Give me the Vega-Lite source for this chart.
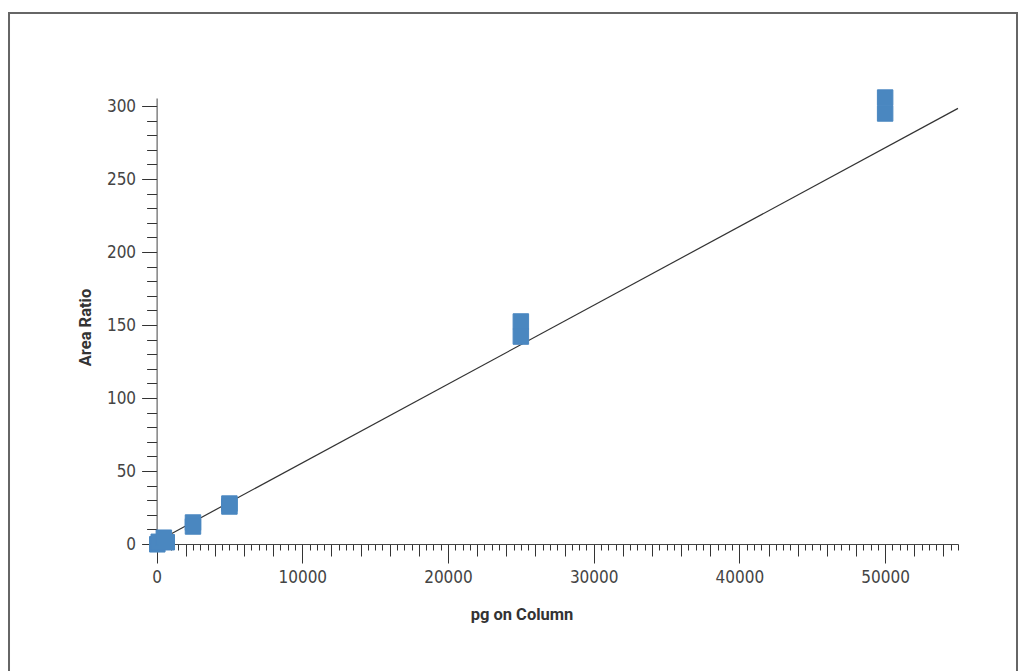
{
  "$schema": "https://vega.github.io/schema/vega-lite/v6.json",
  "width": 808,
  "height": 446,
  "padding": {"left": 8, "top": 12, "right": 0, "bottom": 0},
  "background": "white",
  "config": {
    "view": {"stroke": null},
    "axis": {
      "labelFont": "Liberation Sans Narrow, DejaVu Sans Condensed, sans-serif",
      "labelFontSize": 17,
      "labelColor": "#444",
      "titleFont": "Roboto, Liberation Sans, sans-serif",
      "titleFontSize": 16.5,
      "titleFontWeight": "bold",
      "titleColor": "#333",
      "tickColor": "#333",
      "domainColor": "#444",
      "grid": false
    }
  },
  "datasets": {
    "points": [
      {"pg": 50, "ratio": -0.2},
      {"pg": 150, "ratio": 1.5},
      {"pg": 500, "ratio": 4.3},
      {"pg": 700, "ratio": 1.2},
      {"pg": 2500, "ratio": 14.7},
      {"pg": 2500, "ratio": 12.0},
      {"pg": 5000, "ratio": 27.7},
      {"pg": 5000, "ratio": 25.7},
      {"pg": 25000, "ratio": 152.4},
      {"pg": 25000, "ratio": 142.1},
      {"pg": 50000, "ratio": 305.8},
      {"pg": 50000, "ratio": 294.9}
    ],
    "fit": [
      {"pg": 0, "ratio": 1.6},
      {"pg": 55000, "ratio": 298.4}
    ],
    "frame": [
      {"x1": -10126, "x2": 59049, "y1": 363.7, "y2": -110}
    ]
  },
  "resolve": {"axis": {"x": "independent", "y": "independent"}},
  "layer": [
    {
      "data": {"name": "frame"},
      "mark": {"type": "rect", "fill": null, "stroke": "#666", "strokeWidth": 2, "clip": false},
      "encoding": {
        "x": {"field": "x1", "type": "quantitative", "scale": {"domain": [-450, 55000], "nice": false, "zero": false},
          "axis": {"orient": "bottom", "values": [2000, 4000, 6000, 8000, 12000, 14000, 16000, 18000, 22000, 24000, 26000, 28000, 32000, 34000, 36000, 38000, 42000, 44000, 46000, 48000, 52000, 54000], "tickSize": 12, "labels": false, "domain": false, "title": null}},
        "x2": {"field": "x2"},
        "y": {"field": "y1", "type": "quantitative", "scale": {"domain": [0, 305.5], "nice": false, "zero": false}, "axis": null},
        "y2": {"field": "y2"}
      }
    },
    {
      "data": {"name": "fit"},
      "mark": {"type": "line", "color": "#333", "strokeWidth": 1.2},
      "encoding": {
        "x": {"field": "pg", "type": "quantitative", "scale": {"domain": [-450, 55000], "nice": false, "zero": false},
          "axis": {"orient": "bottom", "values": [500,1000,1500,2500,3000,3500,4500,5000,5500,6500,7000,7500,8500,9000,9500,10500,11000,11500,12500,13000,13500,14500,15000,15500,16500,17000,17500,18500,19000,19500,20500,21000,21500,22500,23000,23500,24500,25000,25500,26500,27000,27500,28500,29000,29500,30500,31000,31500,32500,33000,33500,34500,35000,35500,36500,37000,37500,38500,39000,39500,40500,41000,41500,42500,43000,43500,44500,45000,45500,46500,47000,47500,48500,49000,49500,50500,51000,51500,52500,53000,53500,54500,55000], "tickSize": 6, "labels": false, "domain": false, "title": null}},
        "y": {"field": "ratio", "type": "quantitative", "scale": {"domain": [0, 305.5], "nice": false, "zero": false},
          "axis": {"orient": "left", "offset": -6.6, "values": [10,20,30,40,60,70,80,90,110,120,130,140,160,170,180,190,210,220,230,240,260,270,280,290], "tickSize": 10, "labels": false, "domain": false, "title": null}}
      }
    },
    {
      "data": {"name": "points"},
      "mark": {"type": "square", "size": 240, "color": "#4a87c0", "stroke": "#4a87c0", "strokeWidth": 1, "opacity": 1, "filled": true},
      "encoding": {
        "x": {"field": "pg", "type": "quantitative", "scale": {"domain": [-450, 55000], "nice": false, "zero": false},
          "axis": {"orient": "bottom", "values": [0, 10000, 20000, 30000, 40000, 50000], "format": "d", "tickSize": 19, "labelPadding": 6, "title": "pg on Column", "titleX": 371.5, "titleY": 75, "titleBaseline": "alphabetic", "titleAlign": "center"}},
        "y": {"field": "ratio", "type": "quantitative", "scale": {"domain": [0, 305.5], "nice": false, "zero": false},
          "axis": {"orient": "left", "offset": -6.6, "values": [0, 50, 100, 150, 200, 250, 300], "tickSize": 15, "labelPadding": 6, "title": "Area Ratio", "titleX": -70.7, "titleY": 229, "titleBaseline": "middle", "titleAlign": "center", "titleAngle": -90}}
      }
    }
  ]
}
